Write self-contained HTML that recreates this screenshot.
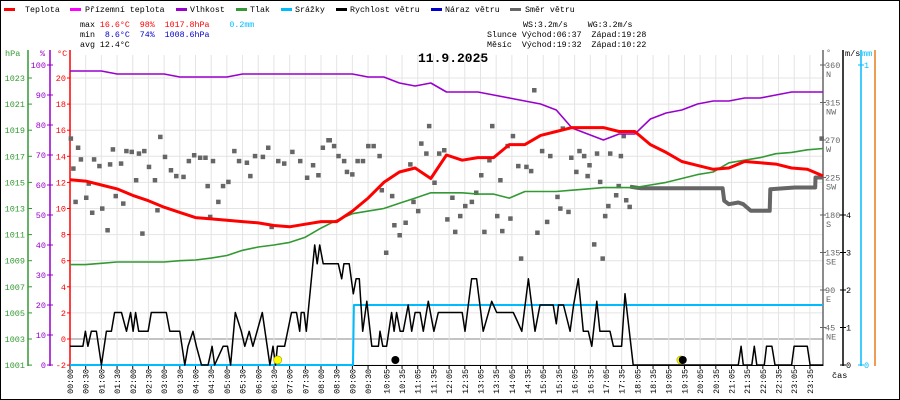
<!DOCTYPE html>
<html><head><meta charset="utf-8"><style>
html,body{margin:0;padding:0;background:#fff}
svg{display:block;font-family:"Liberation Mono",monospace}
text{white-space:pre}
</style></head><body>
<svg id="chart" width="900" height="400" viewBox="0 0 900 400" xmlns="http://www.w3.org/2000/svg">
<rect x="0.5" y="0.5" width="899" height="399" fill="#fff" stroke="#000"/>
<g id="legend" font-size="8.3" fill="#000">
 <g><rect x="4" y="8" width="11" height="3" fill="#f00"/><text x="25" y="12">Teplota</text></g>
 <g><rect x="70" y="8" width="11" height="3" fill="#f0f"/><text x="85" y="12">Přízemní teplota</text></g>
 <g><rect x="176" y="8" width="11" height="3" fill="#90c"/><text x="190" y="12">Vlhkost</text></g>
 <g><rect x="236" y="8" width="11" height="3" fill="#393"/><text x="250" y="12">Tlak</text></g>
 <g><rect x="281" y="8" width="11" height="3" fill="#0bf"/><text x="295" y="12">Srážky</text></g>
 <g><rect x="336" y="8" width="11" height="3" fill="#000"/><text x="350" y="12">Rychlost větru</text></g>
 <g><rect x="431" y="8" width="11" height="3" fill="#00c"/><text x="445" y="12">Náraz větru</text></g>
 <g><rect x="510" y="8" width="11" height="3" fill="#666"/><text x="525" y="12">Směr větru</text></g>
</g>
<g font-size="8.3">
 <text x="80" y="27" xml:space="preserve">max <tspan fill="#f00">16.6°C  98%  1017.8hPa</tspan>    <tspan fill="#0bf">0.2mm</tspan></text>
 <text x="80" y="37" xml:space="preserve">min  <tspan fill="#00c">8.6°C  74%  1008.6hPa</tspan></text>
 <text x="80" y="47" xml:space="preserve">avg 12.4°C</text>
 <text x="523" y="27" xml:space="preserve">WS:3.2m/s    WG:3.2m/s</text>
 <text x="487" y="37" xml:space="preserve">Slunce Východ:06:37  Západ:19:28</text>
 <text x="487" y="47" xml:space="preserve">Měsíc  Východ:19:32  Západ:10:22</text>
</g>
<text x="418" y="62" font-size="13" font-weight="bold" font-family="Liberation Mono,monospace">11.9.2025</text>
<g id="grid"></g>
<g id="axes"></g>
<g id="series"></g>
</svg>
<script>
const tempVals=[12.2,12.1,11.8,11.5,11.0,10.6,10.1,9.7,9.3,9.2,9.1,9.0,8.9,8.7,8.6,8.8,9.0,9.0,9.8,10.8,12.0,12.8,13.1,12.3,14.1,13.7,13.9,13.9,14.9,14.9,15.6,15.9,16.2,16.2,16.2,15.9,15.9,14.9,14.3,13.6,13.3,13.0,13.1,13.6,13.5,13.4,13.1,13.0,12.5];
const humVals=[98,98,98,97,97,97,97,96,96,96,96,97,97,97,97,97,97,97,97,96,96,94,93,94,91,91,91,90,89,88,87,85,79,77,75,77,77,82,84,85,87,88,88,89,89,90,91,91,91];
const presVals=[1008.7,1008.7,1008.8,1008.9,1008.9,1008.9,1008.9,1009.0,1009.05,1009.2,1009.4,1009.8,1010.05,1010.2,1010.4,1010.8,1011.5,1012.1,1012.6,1012.8,1013.0,1013.4,1013.8,1014.2,1014.2,1014.2,1014.1,1014.1,1013.8,1014.3,1014.3,1014.3,1014.4,1014.5,1014.6,1014.6,1014.6,1014.8,1015.0,1015.3,1015.6,1015.8,1016.5,1016.7,1016.9,1017.2,1017.3,1017.5,1017.6];
const windSeries=[[0,0.5],[0.41,0.5],[0.49,0.9],[0.57,0.5],[0.68,0.9],[0.84,0.9],[1.0,0],[1.16,0.9],[1.32,0.9],[1.42,1.4],[1.64,1.4],[1.8,0.9],[1.93,1.4],[2.01,0.9],[2.09,1.4],[2.19,0.9],[2.49,0.9],[2.59,1.4],[3.07,1.4],[3.18,0.9],[3.5,0.9],[3.66,0],[3.76,0.5],[3.92,0.9],[4.03,0.5],[4.19,0],[4.4,0],[4.53,0.5],[4.61,0],[4.88,0.5],[5.02,0.5],[5.12,0],[5.27,1.4],[5.46,0.9],[5.57,0.5],[5.71,0.9],[5.83,0.5],[6.13,1.4],[6.37,0],[6.47,0.5],[6.55,0],[6.61,0.5],[6.84,0.5],[7.06,1.4],[7.22,1.4],[7.32,0.9],[7.37,1.4],[7.46,1.4],[7.53,0.9],[7.8,3.2],[7.88,2.7],[7.96,3.2],[8.07,2.7],[8.55,2.7],[8.66,2.3],[8.73,2.7],[8.9,2.7],[9.03,1.9],[9.12,2.3],[9.22,2.3],[9.33,0.9],[9.46,1.7],[9.62,0.5],[9.83,0.5],[9.88,0.9],[9.97,0.5],[10.09,0.5],[10.25,1.4],[10.33,0.9],[10.41,1.4],[10.52,0.9],[10.62,0.9],[10.78,1.6],[10.89,0.9],[11.0,1.4],[11.16,1.4],[11.26,0.9],[11.42,1.7],[11.6,0.9],[11.74,1.4],[12.5,1.4],[12.59,0.9],[12.8,2.3],[12.96,2.3],[13.17,0.9],[13.44,1.7],[13.6,1.4],[14.13,1.4],[14.24,1.2],[14.4,0.9],[14.61,2.3],[14.82,0.9],[14.98,1.6],[15.19,1.6],[15.4,1.6],[15.5,1.1],[15.57,1.6],[15.73,1.6],[15.94,0.9],[16.05,1.6],[16.2,2.3],[16.36,0.9],[16.52,0.9],[16.63,0.5],[16.79,1.7],[16.89,0.9],[17.21,0.9],[17.32,0.5],[17.58,0.5],[17.69,1.9],[17.95,0],[21.3,0],[21.39,0.5],[21.46,0],[21.73,0],[21.81,0.5],[21.89,0],[22.13,0],[22.2,0.5],[22.37,0.5],[22.47,0],[23.0,0],[23.08,0.5],[23.5,0.5],[23.59,0],[24,0]];
const dirPoints=[[0.02,272],[0.10,236],[0.17,196],[0.25,261],[0.34,247],[0.51,201],[0.59,218],[0.70,183],[0.76,247],[0.93,239],[1.02,188],[1.19,162],[1.27,241],[1.36,259],[1.45,203],[1.62,242],[1.69,194],[1.79,257],[1.96,256],[2.10,222],[2.19,254],[2.30,158],[2.36,257],[2.51,238],[2.70,222],[2.78,186],[2.87,274],[3.02,250],[3.21,234],[3.38,227],[3.61,226],[3.78,245],[3.95,252],[4.14,249],[4.31,249],[4.38,215],[4.46,178],[4.55,245],[4.72,196],[4.87,215],[5.04,220],[5.23,257],[5.38,245],[5.63,243],[5.74,227],[5.89,251],[6.14,250],[6.31,261],[6.42,166],[6.63,245],[6.82,242],[7.08,256],[7.33,245],[7.55,225],[7.74,240],[7.91,228],[8.05,261],[8.23,270],[8.27,270],[8.41,263],[8.55,251],[8.73,245],[8.82,232],[8.99,229],[9.16,245],[9.33,245],[9.50,263],[9.67,263],[9.86,251],[9.93,210],[10.07,135],[10.26,203],[10.33,168],[10.50,156],[10.69,171],[10.84,241],[10.94,196],[11.09,185],[11.19,266],[11.35,254],[11.44,287],[11.61,219],[11.76,254],[11.92,258],[12.02,175],[12.18,201],[12.27,160],[12.43,179],[12.59,191],[12.80,196],[12.94,207],[13.10,228],[13.20,160],[13.36,246],[13.45,287],[13.61,179],[13.71,222],[13.77,161],[13.94,263],[14.03,176],[14.11,275],[14.28,239],[14.37,128],[14.54,238],[14.69,233],[14.79,330],[14.89,159],[15.04,257],[15.20,172],[15.30,251],[15.53,202],[15.62,188],[15.70,284],[15.88,184],[15.97,249],[16.13,232],[16.23,257],[16.38,251],[16.49,227],[16.55,240],[16.70,145],[16.79,254],[16.89,220],[16.97,128],[17.05,179],[17.15,191],[17.21,254],[17.40,204],[17.48,215],[17.55,251],[17.64,275],[17.72,198],[17.83,190],[23.95,272]];
const dirLine=[[17.85,214],[18.2,212],[20.8,212],[20.85,197],[21.0,193],[21.3,195],[21.46,193],[21.7,185],[22.3,185],[22.32,211],[23.1,213],[23.75,213],[23.76,225],[24,225]];
const rainSeries=[[0,0],[9.02,0],[9.05,0.2],[24,0.2]];
const timeLabels=["00:00","00:30","01:00","01:30","02:00","02:30","03:00","03:30","04:00","04:30","05:00","05:30","06:00","06:30","07:00","07:30","08:00","08:30","09:00","09:30","10:05","10:35","11:05","11:35","12:05","12:35","13:05","13:35","14:05","14:35","15:05","15:35","16:05","16:35","17:05","17:35","18:05","18:35","19:05","19:35","20:05","20:35","21:05","21:35","22:05","22:35","23:05","23:35"];
const presTicks=[1001,1003,1005,1007,1009,1011,1013,1015,1017,1019,1021,1023];
const humTicks=[0,10,20,30,40,50,60,70,80,90,100];
const tempTicks=[-2,0,2,4,6,8,10,12,14,16,18,20];
const dirTicks=[45,90,135,180,225,270,315,360];
const dirNames=["NE","E","SE","S","SW","W","NW","N"];
const windTicks=[0,1,2,3,4];
const rainTicks=[0,1];
const sunEvents=[6.62,19.47];
const moonEvents=[10.37,19.53];

const NS="http://www.w3.org/2000/svg";
const X=h=>70+h*31.375;
const yT=t=>339-t*13.05;
const yP=p=>yT(p-1003);
const yH=v=>365-3*v;
const yW=v=>365-37.5*v;
const yD=d=>365-d/1.2;
const yR=m=>365-300*m;
const lab=s=>{const [a,b]=s.split(":").map(Number);return a+b/60;};
function mk(tag,attrs,parent){const e=document.createElementNS(NS,tag);for(const k in attrs)e.setAttribute(k,attrs[k]);parent.appendChild(e);return e;}
const grid=document.getElementById('grid'),axes=document.getElementById('axes'),ser=document.getElementById('series');

tempTicks.forEach(t=>{const l=mk('line',{x1:70,x2:823,y1:yT(t),y2:yT(t),stroke:t===0?'#888':'#e4e4e4','stroke-width':1},grid);

});
timeLabels.forEach(s=>{const x=X(lab(s));const l=mk('line',{x1:x,x2:x,y1:55,y2:365,stroke:'#e4e4e4'},grid);


const tk=mk('line',{x1:x,x2:x,y1:365,y2:369,stroke:'#000'},axes);


const tx=mk('text',{x:0,y:0,'font-size':8.3,'text-anchor':'end',transform:`translate(${x+3},369) rotate(-90)`},axes);tx.textContent=s;

});

function vaxis(x,color,name){const l=mk('line',{x1:x,x2:x,y1:50,y2:366,stroke:color,'stroke-width':1.5},axes);

}
vaxis(28,'#393','pressure-axis');vaxis(50,'#90c','humidity-axis');vaxis(70,'#f00','temperature-axis');
vaxis(823,'#666','direction-axis');vaxis(843,'#000','wind-axis');vaxis(861,'#0bf','rain-axis');vaxis(875,'#e87f1a','extra-axis');
function tlab(x,y,txt,color,anchor){const t=mk('text',{x:x,y:y+3,'font-size':8.5,fill:color,'text-anchor':anchor},axes);t.textContent=txt;

return t;}
presTicks.forEach(p=>{tlab(25,yP(p),p,'#393','end');mk('line',{x1:28,x2:32,y1:yP(p),y2:yP(p),stroke:'#393'},axes);});
humTicks.forEach(h=>{tlab(46,yH(h),h,'#90c','end');mk('line',{x1:47,x2:53,y1:yH(h),y2:yH(h),stroke:'#90c'},axes);});
tempTicks.forEach(t=>{tlab(66,yT(t),t,'#f00','end');mk('line',{x1:67,x2:70,y1:yT(t),y2:yT(t),stroke:'#f00'},axes);});
dirTicks.forEach((d,i)=>{tlab(825,yD(d),d,'#666','start');tlab(826,yD(d)+9,dirNames[i],'#666','start');mk('line',{x1:820,x2:826,y1:yD(d),y2:yD(d),stroke:'#666'},axes);});
windTicks.forEach(v=>{tlab(846,yW(v),v,'#000','start');mk('line',{x1:840,x2:846,y1:yW(v),y2:yW(v),stroke:'#000'},axes);});
rainTicks.forEach(v=>{tlab(864,yR(v),v,'#0bf','start');mk('line',{x1:858,x2:864,y1:yR(v),y2:yR(v),stroke:'#0bf'},axes);});
[[5,56,'hPa','#393'],[40,56,'%','#90c'],[57,56,'°C','#f00'],[826,55,'°','#666'],[845,56,'m/s','#000'],[862,56,'mm','#0bf'],[832,378,'čas','#000']].forEach(a=>{const t=mk('text',{x:a[0],y:a[1],'font-size':8.5,fill:a[3]},axes);t.textContent=a[2];

});
const xa=mk('line',{x1:70,x2:823,y1:365.5,y2:365.5,stroke:'#000'},axes);



function poly(pts,color,w,name){const p=mk('polyline',{points:pts.map(q=>q[0].toFixed(1)+','+q[1].toFixed(1)).join(' '),fill:'none',stroke:color,'stroke-width':w,'stroke-linejoin':'round'},ser);

}
poly(rainSeries.map(d=>[X(d[0]),yR(d[1])]),'#0bf',2,'rain-line');
dirPoints.forEach(d=>{const r=mk('rect',{x:X(d[0])-2,y:yD(d[1])-2,width:4.5,height:4.5,fill:'#666'},ser);

});
poly(dirLine.map(d=>[X(d[0]),yD(d[1])]),'#666',4,'wind-direction-line');
poly(presVals.map((v,i)=>[X(i*0.5),yP(v)]),'#393',1.6,'pressure-line');
poly(humVals.map((v,i)=>[X(i*0.5),yH(v)]),'#90c',1.6,'humidity-line');
poly(tempVals.map((v,i)=>[X(i*0.5),yT(v)]),'#f00',3,'temperature-line');
poly(windSeries.map(d=>[X(d[0]),yW(d[1])]),'#000',1.5,'wind-speed-line');
sunEvents.forEach(h=>{const c=mk('circle',{cx:X(h),cy:360,r:4,fill:'#ff0',stroke:'#aa0','stroke-width':0.7},ser);

});
moonEvents.forEach(h=>{const c=mk('circle',{cx:X(h),cy:360,r:4,fill:'#000'},ser);

});
</script>
</body></html>
